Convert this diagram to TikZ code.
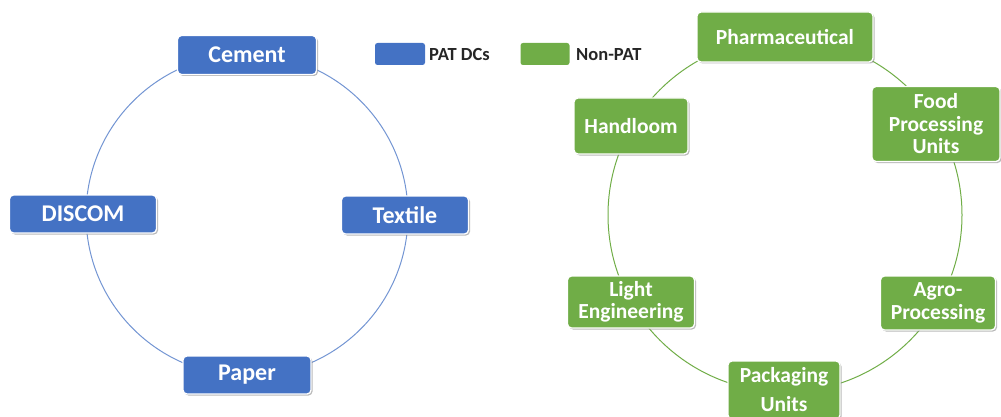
\documentclass[tikz,border=0pt]{standalone}
\usepackage{fontspec}
\setmainfont{Carlito}
\usetikzlibrary{shadows}
\definecolor{patblue}{HTML}{4472C4}
\definecolor{nongreen}{HTML}{70AD47}
\tikzset{
  box/.style={rounded corners=4pt, draw=white, line width=1.3pt, text=white,
    font=\bfseries, align=center, inner sep=0pt,
    drop shadow={shadow xshift=1.5pt, shadow yshift=-1.5pt, fill=black!45, opacity=0.6}},
  patbox/.style={box, fill=patblue, font=\fontsize{24}{26}\selectfont\bfseries},
  nonbox/.style={box, fill=nongreen, font=\fontsize{21.5}{22.5}\selectfont\bfseries},
  ring/.style={line width=1pt},
  keybox/.style={rounded corners=2.5pt, inner sep=0pt},
  keytext/.style={anchor=west, inner sep=0pt, font=\fontsize{18.5}{20}\selectfont\bfseries, text=black!85}
}
\begin{document}
\begin{tikzpicture}[x=1pt, y=-1pt]
  \useasboundingbox (0,0) rectangle (1001,417);

  % rings behind the boxes
  \draw[ring, draw=patblue!75] (247,215) circle [radius=161];
  \draw[ring, draw=nongreen] (785,215) circle [radius=177];

  % PAT designated consumers
  \node[patbox, minimum width=139pt, minimum height=39pt] (cement)  at (247,55)  {Cement};
  \node[patbox, minimum width=147pt, minimum height=38pt] (discom)  at (83,214)  {DISCOM};
  \node[patbox, minimum width=127pt, minimum height=38pt] (textile) at (405,215) {Textile};
  \node[patbox, minimum width=128pt, minimum height=38pt] (paper)   at (247,375) {Paper};

  % legend
  \node[keybox, fill=patblue, minimum width=50pt, minimum height=22pt] (keypat) at (400,54) {};
  \node[keytext] (keypatlbl) at (429,55) {PAT DCs};
  \node[keybox, fill=nongreen, minimum width=49pt, minimum height=22pt] (keynon) at (545,54) {};
  \node[keytext] (keynonlbl) at (576,55) {Non-PAT};

  % non-PAT sectors
  \node[nonbox, minimum width=176pt, minimum height=50pt] (pharma)  at (785,37)  {Pharmaceutical};
  \node[nonbox, minimum width=114pt, minimum height=56pt] (handloom) at (631,126) {Handloom};
  \node[nonbox, minimum width=128pt, minimum height=75pt] (food)    at (936,124) {Food\\Processing\\Units};
  \node[nonbox, minimum width=127pt, minimum height=52pt] (light)   at (631,302) {Light\\Engineering};
  \node[nonbox, minimum width=115pt, minimum height=54pt] (agro)    at (938,303) {Agro-\\Processing};
  \node[nonbox, minimum width=112pt, minimum height=58pt,
        font=\fontsize{21.5}{29}\selectfont\bfseries] (pack) at (784,390) {Packaging\\Units};
\end{tikzpicture}
\end{document}
